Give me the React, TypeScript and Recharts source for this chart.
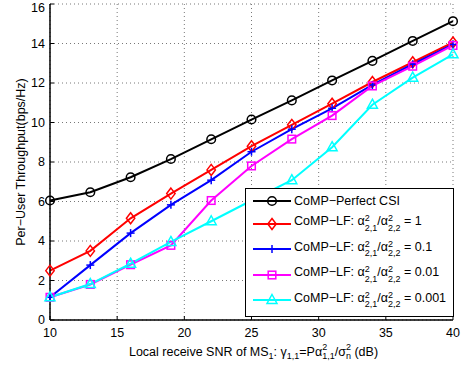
import React from 'react';
import { LineChart, Line, XAxis, YAxis, CartesianGrid } from 'recharts';

// SNR points (dB) and per-user throughput (bps/Hz)
const snr = [10, 13, 16, 19, 22, 25, 28, 31, 34, 37, 40];
const perfectCsi = [6.05, 6.47, 7.23, 8.15, 9.15, 10.15, 11.12, 12.13, 13.12, 14.13, 15.13];
const ratio1 = [2.5, 3.5, 5.15, 6.4, 7.6, 8.8, 9.88, 10.95, 12.05, 13.05, 14.05];
const ratio01 = [1.15, 2.78, 4.4, 5.83, 7.08, 8.52, 9.66, 10.72, 11.9, 12.95, 13.95];
const ratio001 = [1.15, 1.8, 2.8, 3.78, 6.05, 7.8, 9.16, 10.35, 11.85, 12.85, 13.9];
const ratio0001 = [1.15, 1.82, 2.85, 3.95, 5.0, 6.05, 7.08, 8.75, 10.9, 12.27, 13.45];

const xTicks = [10, 15, 20, 25, 30, 35, 40];
const yTicks = [0, 2, 4, 6, 8, 10, 12, 14, 16];

const data = snr.map((x, i) => ({
  x,
  perfect: perfectCsi[i],
  r1: ratio1[i],
  r01: ratio01[i],
  r001: ratio001[i],
  r0001: ratio0001[i],
}));

const FONT = '"Liberation Sans", Arial, Helvetica, sans-serif';

type Kind = 'circle' | 'diamond' | 'plus' | 'square' | 'triangle';

const Marker = ({ kind, cx, cy, color }: { kind: Kind; cx: number; cy: number; color: string }) => {
  const common = { fill: 'none', stroke: color, strokeWidth: 1.5 };
  if (kind === 'circle') return <circle cx={cx} cy={cy} r={4.3} {...common} />;
  if (kind === 'diamond')
    return <polygon points={`${cx},${cy - 5.5} ${cx + 4.2},${cy} ${cx},${cy + 5.5} ${cx - 4.2},${cy}`} {...common} />;
  if (kind === 'square') return <rect x={cx - 3.8} y={cy - 3.8} width={7.6} height={7.6} {...common} />;
  if (kind === 'triangle')
    return <polygon points={`${cx},${cy - 5.5} ${cx + 5},${cy + 3.5} ${cx - 5},${cy + 3.5}`} {...common} />;
  return (
    <g stroke={color} strokeWidth={1.5}>
      <line x1={cx - 4} y1={cy} x2={cx + 4} y2={cy} />
      <line x1={cx} y1={cy - 4} x2={cx} y2={cy + 4} />
    </g>
  );
};

const makeDot = (kind: Kind, color: string) => (props: any) => (
  <Marker key={`${kind}-${props.index}`} kind={kind} cx={props.cx} cy={props.cy} color={color} />
);

const series = [
  { key: 'perfect', color: '#000000', kind: 'circle' as Kind },
  { key: 'r1', color: '#ff0000', kind: 'diamond' as Kind },
  { key: 'r01', color: '#0000ff', kind: 'plus' as Kind },
  { key: 'r001', color: '#ff00ff', kind: 'square' as Kind },
  { key: 'r0001', color: '#00ffff', kind: 'triangle' as Kind },
];

const legendValues = ['1', '0.1', '0.01', '0.001'];

const Scripts = ({ sup, sub }: { sup: string; sub: string }) => (
  <span
    style={{
      display: 'inline-flex',
      flexDirection: 'column',
      fontSize: 9,
      lineHeight: '9.5px',
      verticalAlign: '4px',
    }}
  >
    <span>{sup}</span>
    <span>{sub}</span>
  </span>
);

const XLabel = (props: any) => {
  const vb = props.viewBox || { x: 50, y: 320, width: 403 };
  const cx = vb.x + vb.width / 2 + 2;
  const s = { fontSize: 9 };
  return (
    <text x={cx} y={356} textAnchor="middle" fontSize={12.5} fontFamily={FONT} fill="#000">
      Local receive SNR of MS
      <tspan {...s} dy={3}>1</tspan>
      <tspan dy={-3}>: γ</tspan>
      <tspan {...s} dy={3}>1,1</tspan>
      <tspan dy={-3}>=Pα</tspan>
      <tspan {...s} dy={-6}>2</tspan>
      <tspan {...s} dx={-5} dy={9}>1,1</tspan>
      <tspan dy={-3}>/σ</tspan>
      <tspan {...s} dy={-6}>2</tspan>
      <tspan {...s} dx={-5} dy={9}>n</tspan>
      <tspan dy={-3}> (dB)</tspan>
    </text>
  );
};

const YLabel = () => (
  <text
    x={0}
    y={0}
    transform="translate(25, 162) rotate(-90)"
    textAnchor="middle"
    fontSize={12.5}
    fontFamily={FONT}
    fill="#000"
  >
    Per−User Throughput(bps/Hz)
  </text>
);

const LegendBox = () => (
  <div
    style={{
      position: 'absolute',
      left: 245,
      top: 188,
      width: 207,
      height: 126,
      border: '1px solid #000',
      background: '#fff',
      fontFamily: FONT,
      fontSize: 12.5,
      color: '#000',
      paddingTop: 1,
    }}
  >
    {series.map((s, i) => (
      <div
        key={s.key}
        style={{ display: 'flex', alignItems: 'center', height: i === 0 ? 21 : 25.5, whiteSpace: 'nowrap' }}
      >
        <svg width={48} height={14} style={{ flex: 'none' }}>
          <line x1={7} y1={7} x2={45} y2={7} stroke={s.color} strokeWidth={2} />
          <Marker kind={s.kind} cx={26} cy={7} color={s.color} />
        </svg>
        {i === 0 ? (
          <span>CoMP−Perfect CSI</span>
        ) : (
          <span>
            CoMP−LF: α<Scripts sup="2" sub="2,1" />/α<Scripts sup="2" sub="2,2" /> = {legendValues[i - 1]}
          </span>
        )}
      </div>
    ))}
  </div>
);

export default function App() {
  const tickStyle = { fontSize: 12.5, fontFamily: FONT, fill: '#000' };
  const axisLine = { stroke: '#000', strokeWidth: 1.5 };
  const tickLine = { stroke: '#000', strokeWidth: 1 };
  return (
    <div style={{ position: 'absolute', left: 0, top: 0, width: 466, height: 369, background: '#fff' }}>
      <LineChart width={466} height={369} data={data} margin={{ top: 4, right: 13, left: 0, bottom: 0 }}>
        <CartesianGrid stroke="#555" strokeDasharray="1 3" strokeWidth={0.8} />
        <XAxis
          dataKey="x"
          type="number"
          domain={[10, 40]}
          ticks={xTicks}
          height={49}
          tick={tickStyle}
          tickLine={tickLine}
          tickSize={-4}
          tickMargin={12}
          axisLine={axisLine}
          label={<XLabel />}
        />
        <XAxis
          xAxisId="top"
          dataKey="x"
          type="number"
          domain={[10, 40]}
          ticks={xTicks}
          orientation="top"
          height={0}
          tick={false}
          tickLine={tickLine}
          tickSize={-4}
          axisLine={axisLine}
        />
        <YAxis
          type="number"
          domain={[0, 16]}
          ticks={yTicks}
          width={50}
          tick={tickStyle}
          tickLine={tickLine}
          tickSize={-4}
          tickMargin={9}
          axisLine={axisLine}
          label={<YLabel />}
        />
        <YAxis
          yAxisId="right"
          type="number"
          domain={[0, 16]}
          ticks={yTicks}
          orientation="right"
          width={0}
          tick={false}
          tickLine={tickLine}
          tickSize={-4}
          axisLine={axisLine}
        />
        {series.map((s) => (
          <Line
            key={s.key}
            dataKey={s.key}
            type="linear"
            stroke={s.color}
            strokeWidth={2}
            dot={makeDot(s.kind, s.color)}
            activeDot={false}
            isAnimationActive={false}
          />
        ))}
      </LineChart>
      <LegendBox />
    </div>
  );
}
